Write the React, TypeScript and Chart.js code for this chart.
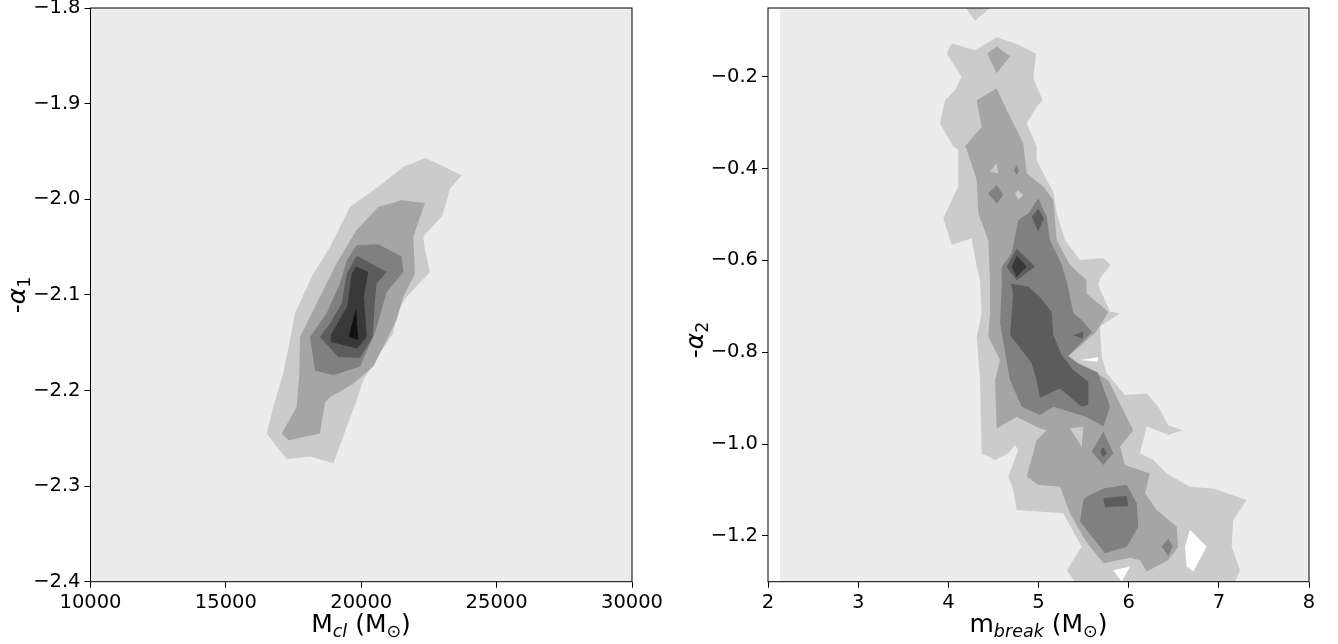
import { useEffect, useRef } from 'react';
import { Chart, registerables } from 'chart.js';

Chart.register(...registerables);

type Pt = [number, number];
type Part = { t: string; it?: boolean; sub?: boolean };
type Region = { level: number; pts: Pt[] };

const FONT_FAMILY = '"DejaVu Sans", "Liberation Sans", sans-serif';
const TICK_SIZE = 19.5;
const TITLE_SIZE = 25;
const SUB_SCALE = 0.7;
const SUB_DROP = 0.2;

// contour level colours (0 = lowest filled level ... 6 = highest), 7 = unfilled
const LEVEL_COLORS = ['#ececec', '#cbcbcb', '#a5a5a5', '#808080', '#5c5c5c', '#383838', '#111111', '#ffffff'];
const UNFILLED = 7;

// ---------------- left panel: M_cl vs -alpha_1 ----------------
const L_X_LIMITS: Pt = [10000, 30000];
const L_Y_LIMITS: Pt = [-2.4, -1.8];
const L_X_TICKS = [10000, 15000, 20000, 25000, 30000];
const L_Y_TICKS = [-2.4, -2.3, -2.2, -2.1, -2.0, -1.9, -1.8];

const L_BAND1: Pt[] = [
  [22380, -1.957], [23710, -1.975], [23278, -1.989], [23093, -2.008], [22971, -2.018], [22291, -2.039],
  [22354, -2.053], [22539, -2.076], [21679, -2.102], [21309, -2.119], [21184, -2.140], [20692, -2.161],
  [20076, -2.189], [19832, -2.210], [18968, -2.276], [18107, -2.269], [17246, -2.272], [16508, -2.245],
  [16752, -2.217], [17121, -2.182], [17368, -2.147], [17553, -2.119], [18229, -2.078], [18846, -2.050],
  [19584, -2.008], [20814, -1.983], [21553, -1.966],
];
const L_BAND2: Pt[] = [
  [21494, -2.001], [22354, -2.004], [21922, -2.039], [21985, -2.078], [21553, -2.102], [21309, -2.126],
  [20940, -2.147], [20445, -2.175], [19706, -2.193], [18846, -2.207], [18661, -2.213], [18476, -2.245],
  [17305, -2.252], [17062, -2.245], [17616, -2.217], [17712, -2.182], [17738, -2.144], [18354, -2.109],
  [19093, -2.067], [19832, -2.032], [20630, -2.008],
];
const L_BAND3: Pt[] = [
  [19832, -2.048], [20630, -2.047], [21494, -2.060], [21553, -2.076], [20940, -2.097], [20508, -2.140],
  [19954, -2.175], [18968, -2.184], [18292, -2.179], [18107, -2.144], [18724, -2.119], [19215, -2.088],
  [19462, -2.064],
];
const L_BAND4: Pt[] = [
  [19832, -2.059], [20940, -2.076], [20571, -2.088], [20508, -2.105], [20423, -2.144], [19954, -2.166],
  [19152, -2.165], [18476, -2.144], [18846, -2.130], [19278, -2.109], [19462, -2.078],
];
const L_BAND5: Pt[] = [
  [19806, -2.070], [20260, -2.076], [20101, -2.102], [20201, -2.144], [19854, -2.156], [18846, -2.149],
  [18872, -2.142], [19485, -2.112], [19647, -2.078],
];
const L_BAND6: Pt[] = [[19806, -2.114], [19891, -2.147], [19536, -2.144]];

// ---------------- right panel: m_break vs -alpha_2 ----------------
const R_X_LIMITS: Pt = [2, 8];
const R_Y_LIMITS: Pt = [-1.3, -0.05];
const R_GRID_X_MIN = 2.133; // contour grid starts here (white strip to the left)
const R_X_TICKS = [2, 3, 4, 5, 6, 7, 8];
const R_Y_TICKS = [-1.2, -1.0, -0.8, -0.6, -0.4, -0.2];

const R_TOP1: Pt[] = [[4.196, -0.05], [4.462, -0.05], [4.296, -0.078]];
const R_BAND1: Pt[] = [
  [3.982, -0.149], [4.037, -0.127], [4.296, -0.142], [4.536, -0.114], [4.739, -0.127], [4.972, -0.149],
  [4.942, -0.203], [5.046, -0.251], [4.980, -0.265], [4.869, -0.301], [4.980, -0.352], [4.980, -0.381],
  [5.091, -0.425], [5.164, -0.450], [5.202, -0.497], [5.294, -0.556], [5.460, -0.599], [5.719, -0.595],
  [5.801, -0.610], [5.682, -0.639], [5.663, -0.654], [5.793, -0.712], [5.904, -0.715], [5.682, -0.744],
  [5.701, -0.810], [5.756, -0.846], [5.959, -0.893], [6.200, -0.890], [6.328, -0.919], [6.439, -0.959],
  [6.599, -0.970], [6.439, -0.980], [6.200, -0.962], [6.126, -1.020], [6.273, -1.035], [6.422, -1.064],
  [6.680, -1.093], [6.938, -1.097], [7.309, -1.122], [7.160, -1.166], [7.142, -1.224], [7.235, -1.275],
  [7.179, -1.300], [5.405, -1.300], [5.313, -1.275], [5.479, -1.224], [5.275, -1.151], [4.758, -1.144],
  [4.720, -1.100], [4.665, -1.071], [4.776, -1.013], [4.739, -1.002], [4.665, -1.020], [4.518, -1.035],
  [4.370, -1.020], [4.351, -0.861], [4.315, -0.766], [4.370, -0.715], [4.351, -0.643], [4.315, -0.614],
  [4.259, -0.552], [4.037, -0.566], [3.944, -0.508], [4.055, -0.461], [4.110, -0.439], [4.110, -0.359],
  [4.055, -0.352], [3.907, -0.301], [3.963, -0.251], [4.074, -0.229], [4.148, -0.200],
];
const R_TOP2: Pt[] = [[4.432, -0.149], [4.536, -0.134], [4.684, -0.155], [4.536, -0.192]];
const R_BAND2: Pt[] = [
  [4.315, -0.251], [4.536, -0.225], [4.647, -0.272], [4.758, -0.316], [4.831, -0.345], [4.869, -0.410],
  [5.053, -0.439], [5.164, -0.468], [5.202, -0.556], [5.349, -0.610], [5.534, -0.643], [5.534, -0.672],
  [5.774, -0.712], [5.701, -0.737], [5.626, -0.758], [5.305, -0.813], [5.460, -0.830], [5.682, -0.850],
  [5.774, -0.861], [6.051, -0.970], [5.904, -1.006], [5.959, -1.046], [6.236, -1.064], [6.181, -1.107],
  [6.311, -1.144], [6.532, -1.180], [6.550, -1.224], [6.439, -1.253], [6.200, -1.278], [6.126, -1.253],
  [6.015, -1.248], [5.719, -1.260], [5.516, -1.209], [5.349, -1.151], [5.238, -1.093], [4.998, -1.089],
  [4.869, -1.071], [4.980, -0.991], [5.091, -0.970], [5.016, -0.966], [4.758, -0.941], [4.536, -0.966],
  [4.518, -0.861], [4.573, -0.817], [4.443, -0.766], [4.462, -0.715], [4.462, -0.643], [4.443, -0.556],
  [4.332, -0.497], [4.315, -0.425], [4.204, -0.359], [4.185, -0.352], [4.370, -0.309],
];
const R_HOLE1A: Pt[] = [[4.462, -0.407], [4.536, -0.388], [4.554, -0.410]];
const R_HOLE1B: Pt[] = [[4.739, -0.454], [4.776, -0.447], [4.831, -0.458], [4.776, -0.468]];
const R_HOLE1C: Pt[] = [[5.349, -0.966], [5.497, -0.962], [5.479, -1.006]];
const R_SPOT3A: Pt[] = [[4.443, -0.454], [4.536, -0.436], [4.610, -0.458], [4.536, -0.476]];
const R_SPOT3B: Pt[] = [[4.728, -0.403], [4.758, -0.392], [4.784, -0.407], [4.758, -0.414]];
const R_BAND3: Pt[] = [
  [4.887, -0.497], [4.998, -0.465], [5.091, -0.505], [5.127, -0.556], [5.260, -0.610], [5.327, -0.657],
  [5.386, -0.715], [5.479, -0.730], [5.593, -0.756], [5.330, -0.808], [5.438, -0.824], [5.660, -0.845],
  [5.793, -0.919], [5.719, -0.962], [5.534, -0.941], [5.164, -0.919], [5.016, -0.937], [4.814, -0.919],
  [4.684, -0.861], [4.573, -0.737], [4.595, -0.643], [4.592, -0.614], [4.703, -0.585], [4.776, -0.512],
];
const R_DIAMOND3: Pt[] = [[5.719, -0.973], [5.829, -1.020], [5.719, -1.046], [5.590, -1.017]];
const R_BLOB3: Pt[] = [
  [5.534, -1.115], [5.719, -1.097], [5.978, -1.089], [6.089, -1.129], [6.107, -1.180], [5.978, -1.224],
  [5.737, -1.238], [5.460, -1.169], [5.497, -1.122],
];
const R_SMALL3: Pt[] = [[6.366, -1.224], [6.439, -1.206], [6.488, -1.224], [6.439, -1.244]];
const R_BAND4: Pt[] = [
  [4.695, -0.651], [4.887, -0.657], [5.016, -0.680], [5.146, -0.712], [5.164, -0.763], [5.257, -0.806],
  [5.386, -0.839], [5.552, -0.864], [5.552, -0.915], [5.479, -0.919], [5.238, -0.879], [5.016, -0.900],
  [4.980, -0.861], [4.924, -0.824], [4.758, -0.781], [4.684, -0.763], [4.720, -0.672],
];
const R_SPOT4A: Pt[] = [[4.924, -0.505], [4.998, -0.487], [5.061, -0.508], [4.998, -0.537]];
const R_SPOT4B: Pt[] = [[4.647, -0.614], [4.758, -0.574], [4.961, -0.614], [4.758, -0.643]];
const R_SPOT4C: Pt[] = [[5.386, -0.763], [5.497, -0.755], [5.490, -0.770]];
const R_SPOT4D: Pt[] = [[5.682, -1.017], [5.719, -1.006], [5.756, -1.020], [5.719, -1.028]];
const R_SPOT4E: Pt[] = [[5.719, -1.118], [5.978, -1.113], [5.996, -1.135], [5.737, -1.138]];
const R_SPOT5: Pt[] = [[4.703, -0.614], [4.758, -0.590], [4.869, -0.614], [4.758, -0.636]];
const R_WHITE_A: Pt[] = [[5.460, -0.817], [5.660, -0.811], [5.660, -0.821]];
const R_WHITE_B: Pt[] = [[5.829, -1.275], [6.015, -1.267], [5.923, -1.300]];
const R_WHITE_C: Pt[] = [[6.680, -1.187], [6.865, -1.224], [6.717, -1.278], [6.643, -1.267], [6.625, -1.224]];

const rect = (x0: number, x1: number, y0: number, y1: number): Pt[] => [[x0, y0], [x1, y0], [x1, y1], [x0, y1]];

const LEFT_REGIONS: Region[] = [
  { level: 0, pts: rect(L_X_LIMITS[0], L_X_LIMITS[1], L_Y_LIMITS[0], L_Y_LIMITS[1]) },
  { level: 1, pts: L_BAND1 },
  { level: 2, pts: L_BAND2 },
  { level: 3, pts: L_BAND3 },
  { level: 4, pts: L_BAND4 },
  { level: 5, pts: L_BAND5 },
  { level: 6, pts: L_BAND6 },
];

const RIGHT_REGIONS: Region[] = [
  { level: 0, pts: rect(R_GRID_X_MIN, R_X_LIMITS[1], R_Y_LIMITS[0], R_Y_LIMITS[1]) },
  { level: 1, pts: R_TOP1 },
  { level: 1, pts: R_BAND1 },
  { level: 2, pts: R_TOP2 },
  { level: 2, pts: R_BAND2 },
  { level: 1, pts: R_HOLE1A },
  { level: 1, pts: R_HOLE1B },
  { level: 1, pts: R_HOLE1C },
  { level: 3, pts: R_SPOT3A },
  { level: 3, pts: R_SPOT3B },
  { level: 3, pts: R_BAND3 },
  { level: 3, pts: R_DIAMOND3 },
  { level: 3, pts: R_BLOB3 },
  { level: 3, pts: R_SMALL3 },
  { level: 4, pts: R_BAND4 },
  { level: 4, pts: R_SPOT4A },
  { level: 4, pts: R_SPOT4B },
  { level: 4, pts: R_SPOT4C },
  { level: 4, pts: R_SPOT4D },
  { level: 4, pts: R_SPOT4E },
  { level: 5, pts: R_SPOT5 },
  { level: UNFILLED, pts: R_WHITE_A },
  { level: UNFILLED, pts: R_WHITE_B },
  { level: UNFILLED, pts: R_WHITE_C },
];

const fmtDec = (v: number) => v.toFixed(1).replace('-', '\u2212');
const fmtInt = (v: number) => String(v);

type PanelSpec = {
  left: number;
  xLimits: Pt;
  yLimits: Pt;
  xTicks: number[];
  yTicks: number[];
  xFmt: (v: number) => string;
  yFmt: (v: number) => string;
  regions: Region[];
  yAxisWidth: number;
  padRight: number;
  xTitle: Part[];
  yTitle: Part[];
  xTitleAt: Pt;
  yTitleAt: Pt;
};

const CANVAS_W = 669;
const CANVAS_H = 644;
const X_AXIS_H = 62.3;

const PANELS: PanelSpec[] = [
  {
    left: 0,
    xLimits: L_X_LIMITS,
    yLimits: L_Y_LIMITS,
    xTicks: L_X_TICKS,
    yTicks: L_Y_TICKS,
    xFmt: fmtInt,
    yFmt: fmtDec,
    regions: LEFT_REGIONS,
    yAxisWidth: 90.5,
    padRight: 37,
    xTitle: [{ t: 'M' }, { t: 'cl', it: true, sub: true }, { t: ' (M' }, { t: '\u2299', sub: true }, { t: ')' }],
    yTitle: [{ t: '-' }, { t: '\u03b1', it: true }, { t: '1', sub: true }],
    xTitleAt: [361, 632],
    yTitleAt: [25, 295],
  },
  {
    left: 669,
    xLimits: R_X_LIMITS,
    yLimits: R_Y_LIMITS,
    xTicks: R_X_TICKS,
    yTicks: R_Y_TICKS,
    xFmt: fmtInt,
    yFmt: fmtDec,
    regions: RIGHT_REGIONS,
    yAxisWidth: 99,
    padRight: 29,
    xTitle: [{ t: 'm' }, { t: 'break', it: true, sub: true }, { t: ' (M' }, { t: '\u2299', sub: true }, { t: ')' }],
    yTitle: [{ t: '-' }, { t: '\u03b1', it: true }, { t: '2', sub: true }],
    xTitleAt: [369.5, 632],
    yTitleAt: [34, 340],
  },
];

function drawMath(ctx: CanvasRenderingContext2D, parts: Part[], size: number) {
  const fonts = parts.map((p) => `${p.it ? 'italic ' : ''}${p.sub ? size * SUB_SCALE : size}px ${FONT_FAMILY}`);
  const widths = parts.map((p, i) => {
    ctx.font = fonts[i];
    return ctx.measureText(p.t).width;
  });
  const total = widths.reduce((a, b) => a + b, 0);
  let x = -total / 2;
  ctx.textAlign = 'left';
  ctx.textBaseline = 'alphabetic';
  ctx.fillStyle = '#000';
  parts.forEach((p, i) => {
    ctx.font = fonts[i];
    ctx.fillText(p.t, x, p.sub ? size * SUB_DROP : 0);
    x += widths[i];
  });
}

function buildConfig(spec: PanelSpec): any {
  const datasets = spec.regions.map((r, i) => ({
    type: 'line',
    data: r.pts.map(([x, y]) => ({ x, y })),
    backgroundColor: LEVEL_COLORS[r.level],
    borderColor: 'rgba(0,0,0,0)',
    borderWidth: 0,
    pointRadius: 0,
    pointHoverRadius: 0,
    tension: 0,
    fill: 'shape',
    order: -i,
  }));

  const framePlugin = {
    id: 'frameAndTitles',
    afterDraw(chart: any) {
      const ctx: CanvasRenderingContext2D = chart.ctx;
      const a = chart.chartArea;
      ctx.save();
      ctx.strokeStyle = '#000';
      ctx.lineWidth = 1;
      ctx.strokeRect(a.left, a.top, a.right - a.left, a.bottom - a.top);
      ctx.restore();

      ctx.save();
      ctx.translate(spec.xTitleAt[0], spec.xTitleAt[1]);
      drawMath(ctx, spec.xTitle, TITLE_SIZE);
      ctx.restore();

      ctx.save();
      ctx.translate(spec.yTitleAt[0], spec.yTitleAt[1]);
      ctx.rotate(-Math.PI / 2);
      drawMath(ctx, spec.yTitle, TITLE_SIZE);
      ctx.restore();
    },
  };

  const tickFont = { family: FONT_FAMILY, size: TICK_SIZE };
  const grid = { drawOnChartArea: false, drawTicks: true, tickLength: 6, tickColor: '#000', tickWidth: 1 };

  return {
    type: 'line',
    data: { datasets },
    plugins: [framePlugin],
    options: {
      animation: false,
      responsive: false,
      maintainAspectRatio: false,
      events: [],
      layout: { padding: { top: 8, right: spec.padRight, bottom: 0, left: 0 } },
      plugins: { legend: { display: false }, tooltip: { enabled: false } },
      scales: {
        x: {
          type: 'linear',
          min: spec.xLimits[0],
          max: spec.xLimits[1],
          grid,
          border: { display: false },
          ticks: {
            color: '#000',
            font: tickFont,
            padding: 4,
            maxRotation: 0,
            autoSkip: false,
            callback: (v: number) => spec.xFmt(v),
          },
          afterBuildTicks: (s: any) => {
            s.ticks = spec.xTicks.map((value) => ({ value }));
          },
          afterFit: (s: any) => {
            s.height = X_AXIS_H;
            s.paddingLeft = 0;
            s.paddingRight = 0;
          },
        },
        y: {
          type: 'linear',
          min: spec.yLimits[0],
          max: spec.yLimits[1],
          grid,
          border: { display: false },
          ticks: {
            color: '#000',
            font: tickFont,
            padding: 4,
            autoSkip: false,
            callback: (v: number) => spec.yFmt(v),
          },
          afterBuildTicks: (s: any) => {
            s.ticks = spec.yTicks.map((value) => ({ value }));
          },
          afterFit: (s: any) => {
            s.width = spec.yAxisWidth;
            s.paddingTop = 0;
            s.paddingBottom = 0;
          },
        },
      },
    },
  };
}

function Panel({ spec }: { spec: PanelSpec }) {
  const ref = useRef<HTMLCanvasElement>(null);
  useEffect(() => {
    if (!ref.current) return;
    const chart = new Chart(ref.current, buildConfig(spec));
    return () => chart.destroy();
  }, [spec]);
  return (
    <canvas
      ref={ref}
      width={CANVAS_W}
      height={CANVAS_H}
      style={{ position: 'absolute', left: spec.left, top: 0, width: CANVAS_W, height: CANVAS_H }}
    />
  );
}

export default function App() {
  return (
    <div style={{ position: 'absolute', left: 0, top: 0, width: 1338, height: 644, background: '#fff' }}>
      {PANELS.map((p, i) => (
        <Panel key={i} spec={p} />
      ))}
    </div>
  );
}
